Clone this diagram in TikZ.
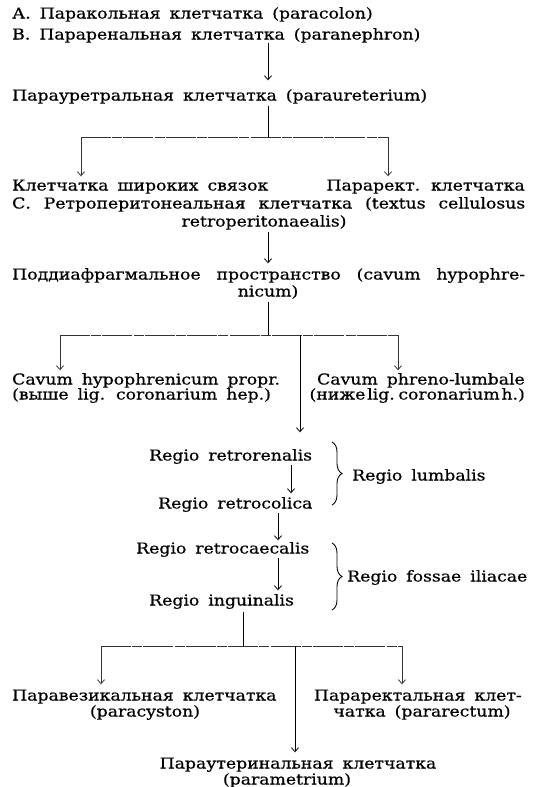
\documentclass[tikz,border=0pt]{standalone}
\usepackage{fontspec}
\setmainfont{DejaVu Serif}[FakeStretch=1.15,FakeBold=0.6]
\usetikzlibrary{arrows.meta,decorations.pathreplacing}
\newcommand\fs{\fontsize{15}{17}\selectfont\spaceskip=0.6em plus 0.3em minus 0.1em\relax}
\newcommand\jl[2]{\hbox to #1{\spaceskip=0.4em plus 1fil minus 0.2em\relax #2}}
\begin{document}
\begin{tikzpicture}[x=1pt,y=-1pt,
  lbl/.style={inner sep=0pt, text height=10pt, text depth=3pt, font=\fs},
  mainln/.style={line width=0.9pt},
  thinln/.style={line width=0.45pt, black!80, dash pattern=on 30pt off 1.2pt on 10pt off 1.2pt},
  droparr/.style={line width=0.45pt, black!80},
  arr/.style={-{Straight Barb[length=4pt,width=7pt,line width=0.8pt]}},
  brc/.style={line width=0.9pt, decorate, decoration={brace,amplitude=10pt}}]
\useasboundingbox (0,0) rectangle (538,787);
% texts
\node[lbl,anchor=west] (A) at (12,15) {А. Паракольная клетчатка (paracolon)};
\node[lbl,anchor=west] (B) at (12,36) {В. Параренальная клетчатка (paranephron)};
\node[lbl,anchor=west] (P) at (12,97) {Парауретральная клетчатка (paraureterium)};
\node[lbl,anchor=west] (K1) at (12,187) {Клетчатка широких связок};
\node[lbl,anchor=east] (K2) at (525,187) {Парарект. клетчатка};
\node[lbl,anchor=west] (C1) at (12,205) {\jl{513pt}{С. Ретроперитонеальная клетчатка (textus cellulosus}};
\node[lbl] (C2) at (264,223) {retroperitonaealis)};
\node[lbl,anchor=west] (D1) at (12,276) {\jl{513pt}{Поддиафрагмальное пространство (cavum hypophre-}};
\node[lbl] (D2) at (268,293) {nicum)};
\node[lbl,anchor=west] (E1) at (12,381) {Cavum hypophrenicum propr.};
\node[lbl,anchor=west] (E2) at (12,396) {(выше lig. coronarium hep.)};
\node[lbl,anchor=east] (F1) at (525,381) {Cavum phreno-lumbale};
\node[lbl,anchor=east] (F2) at (525,396) {\spaceskip=0.12em\relax(ниже lig. coronarium h.)};
\node[lbl,anchor=west] (R1) at (149,457) {Regio retrorenalis};
\node[lbl,anchor=west] (R2) at (158,505) {Regio retrocolica};
\node[lbl,anchor=west] (R3) at (136,550) {Regio retrocaecalis};
\node[lbl,anchor=west] (R4) at (149,602) {Regio inguinalis};
\node[lbl,anchor=west] (L1) at (352,477) {Regio lumbalis};
\node[lbl,anchor=west] (L2) at (347,578) {Regio fossae iliacae};
\node[lbl,anchor=west] (G1) at (12,697) {Паравезикальная клетчатка};
\node[lbl] (G2) at (145,713) {(paracyston)};
\node[lbl,anchor=east] (H1) at (522,697) {Параректальная клет-};
\node[lbl] (H2) at (422,713) {чатка (pararectum)};
\node[lbl] (U1) at (298,765) {Параутеринальная клетчатка};
\node[lbl] (U2) at (287,781) {(parametrium)};
% x positions
\coordinate (xa) at (268,0);
\coordinate (xl1) at (81,0);
\coordinate (xr1) at (388,0);
\coordinate (xl2) at (60,0);
\coordinate (xm2) at (300,0);
\coordinate (xr2) at (398,0);
\coordinate (xb) at (291,0);
\coordinate (xc) at (278,0);
\coordinate (xd) at (243,0);
\coordinate (xl3) at (101,0);
\coordinate (xm3) at (295,0);
\coordinate (xr3) at (402,0);
% junctions
\coordinate (j1) at (268,137);
\coordinate (j1l) at (81,137);
\coordinate (j1r) at (388,137);
\coordinate (j2) at (268,335);
\coordinate (j2l) at (60,335);
\coordinate (j2m) at (300,335);
\coordinate (j2r) at (398,335);
\coordinate (j3) at (243,646);
\coordinate (j3l) at (101,646);
\coordinate (j3m) at (295,646);
\coordinate (j3r) at (402,646);
% connectors
\draw[mainln,arr,shorten >=10pt] (B.south -| xa) -- (P.north -| xa);
\draw[mainln,shorten <=2pt] (P.south -| xa) -- (j1);
\draw[thinln] (j1l) -- (j1r);
\draw[droparr,arr,shorten >=4pt] (j1l) -- (K1.north -| xl1);
\draw[droparr,arr,shorten >=4pt] (j1r) -- (K2.north -| xr1);
\draw[mainln,arr,shorten <=2pt,shorten >=6pt] (C2.south -| xa) -- (D1.north -| xa);
\draw[mainln,shorten <=2pt] (D2.south -| xa) -- (j2);
\draw[thinln] (j2l) -- (j2r);
\draw[droparr,arr,shorten >=4pt] (j2l) -- (E1.north -| xl2);
\draw[droparr,arr,shorten >=4pt] (j2r) -- (F1.north -| xr2);
\draw[mainln,arr,shorten >=18pt] (j2m) -- (R1.north -| xm2);
\draw[mainln,arr,shorten <=1pt,shorten >=5pt] (R1.south -| xb) -- (R2.north -| xb);
\draw[mainln,arr,shorten <=1pt,shorten >=3pt] (R2.south -| xc) -- (R3.north -| xc);
\draw[mainln,arr,shorten <=1pt,shorten >=5pt] (R3.south -| xc) -- (R4.north -| xc);
\draw[mainln,shorten <=3pt] (R4.south -| xd) -- (j3);
\draw[thinln] (j3l) -- (j3r);
\draw[droparr,arr,shorten >=6pt] (j3l) -- (G1.north -| xl3);
\draw[droparr,arr,shorten >=6pt] (j3r) -- (H1.north -| xr3);
\draw[mainln,arr,shorten >=6pt] (j3m) -- (U1.north -| xm3);
% braces
\draw[brc] (332,442) -- (332,505);
\draw[brc] (332,543) -- (332,610);
\end{tikzpicture}
\end{document}
